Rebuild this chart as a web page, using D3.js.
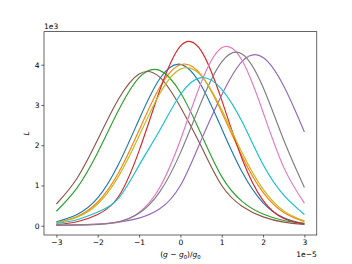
<!DOCTYPE html>
<html>
<head>
<meta charset="utf-8">
<script src="https://cdn.jsdelivr.net/npm/d3@7"></script>
<style>
  body { margin: 0; background: #fff; }
  text { font-family: "DejaVu Sans", sans-serif; fill: #000; }
</style>
</head>
<body>
<div id="container"></div>
<script>
// x in units of 1e-5, L in units of 1e3
var xs = [-3, -2.5, -2, -1.5, -1, -0.5, 0, 0.5, 1, 1.5, 2, 2.5, 3];

var blue   = [0.10, 0.28, 0.69, 1.52, 2.64, 3.65, 4.01, 3.49, 2.41, 1.32, 0.57, 0.20, 0.05];
var orange = [0.08, 0.23, 0.59, 1.31, 2.37, 3.44, 4.00, 3.75, 2.82, 1.71, 0.83, 0.33, 0.10];
var green  = [0.36, 0.94, 1.82, 2.86, 3.68, 3.86, 3.31, 2.28, 1.22, 0.60, 0.29, 0.13, 0.06];
var red    = [0.03, 0.10, 0.28, 0.72, 1.86, 3.36, 4.46, 4.35, 3.12, 1.64, 0.63, 0.18, 0.04];
var purple = [0.01, 0.02, 0.04, 0.09, 0.19, 0.42, 1.00, 2.12, 3.25, 4.09, 4.18, 3.47, 2.33];
var brown  = [0.54, 1.18, 2.14, 3.14, 3.77, 3.69, 2.95, 1.98, 1.00, 0.48, 0.22, 0.09, 0.03];
var pink   = [0.01, 0.02, 0.04, 0.09, 0.33, 0.95, 2.13, 3.55, 4.42, 4.09, 2.82, 1.45, 0.56];
var gray   = [0.01, 0.02, 0.03, 0.10, 0.31, 0.84, 1.81, 3.06, 4.07, 4.26, 3.44, 2.13, 0.95];
var olive  = [0.07, 0.21, 0.54, 1.22, 2.23, 3.28, 3.89, 3.73, 2.88, 1.80, 0.91, 0.37, 0.12];
var cyan   = [0.06, 0.15, 0.34, 0.68, 1.50, 2.37, 3.26, 3.68, 3.39, 2.57, 1.52, 0.76, 0.28];

var series = [blue, orange, green, red, purple, brown, pink, gray, olive, cyan];
var colors = ["#1f77b4", "#ff7f0e", "#2ca02c", "#d62728", "#9467bd",
              "#8c564b", "#e377c2", "#7f7f7f", "#bcbd22", "#17becf"];

var xTicks = [-3, -2, -1, 0, 1, 2, 3];
var yTicks = [0, 1, 2, 3, 4];

var W = 352, H = 264;
// plot box (note: "top" is taken by window.top, so use other names)
var pLeft = 44, pRight = 316.8, pTop = 31.7, pBottom = 235;

var svg = d3.select("#container").append("svg")
    .attr("width", W).attr("height", H);

var x = d3.scaleLinear().domain([-3.3, 3.3]).range([pLeft, pRight]);
var y = d3.scaleLinear().domain([-0.23, 4.82]).range([pBottom, pTop]);

function fmt(d) { return d < 0 ? "\u2212" + Math.abs(d) : String(d); }

// curves
var line = d3.line()
    .x(function (d, i) { return x(xs[i]); })
    .y(function (d) { return y(d); })
    .curve(d3.curveNatural);

svg.append("g").selectAll("path")
    .data(series)
    .enter().append("path")
    .attr("d", line)
    .attr("fill", "none")
    .attr("stroke", function (d, i) { return colors[i]; })
    .attr("stroke-width", 1.15);

// axes
var xAxis = d3.axisBottom(x).tickValues(xTicks).tickFormat(fmt)
    .tickSizeInner(2.7).tickSizeOuter(0).tickPadding(1.9);
var yAxis = d3.axisLeft(y).tickValues(yTicks).tickFormat(fmt)
    .tickSizeInner(2.7).tickSizeOuter(0).tickPadding(1.9);

var gx = svg.append("g").attr("transform", "translate(0," + pBottom + ")").call(xAxis);
var gy = svg.append("g").attr("transform", "translate(" + pLeft + ",0)").call(yAxis);

[gx, gy].forEach(function (g) {
  g.select(".domain").remove();
  g.selectAll(".tick line").attr("stroke", "#000").attr("stroke-width", 0.6);
  g.selectAll(".tick text").attr("font-family", "DejaVu Sans").attr("font-size", 7.5).attr("fill", "#000");
});

// spines
svg.append("rect")
    .attr("x", pLeft).attr("y", pTop)
    .attr("width", pRight - pLeft).attr("height", pBottom - pTop)
    .attr("fill", "none").attr("stroke", "#000").attr("stroke-width", 0.6);

// offset texts
svg.append("text").attr("x", pLeft).attr("y", 29)
    .attr("font-size", 7.5).text("1e3");
svg.append("text").attr("x", pRight).attr("y", 256.5)
    .attr("text-anchor", "end").attr("font-size", 7.5).text("1e\u22125");

// x label: (g - g0)/g0
var xl = svg.append("text").attr("x", (pLeft + pRight) / 2).attr("y", 257)
    .attr("text-anchor", "middle").attr("font-size", 7.5);
xl.append("tspan").text("(");
xl.append("tspan").attr("font-style", "italic").text("g");
xl.append("tspan").text(" \u2212 ");
xl.append("tspan").attr("font-style", "italic").text("g");
xl.append("tspan").attr("font-size", 5.3).attr("dy", 1.5).text("0");
xl.append("tspan").attr("dy", -1.5).text(")/");
xl.append("tspan").attr("font-style", "italic").text("g");
xl.append("tspan").attr("font-size", 5.3).attr("dy", 1.5).text("0");

// y label
svg.append("text")
    .attr("transform", "translate(29," + ((pTop + pBottom) / 2) + ") rotate(-90)")
    .attr("text-anchor", "middle").attr("font-size", 7.5)
    .attr("font-style", "italic").text("L");
</script>
</body>
</html>
